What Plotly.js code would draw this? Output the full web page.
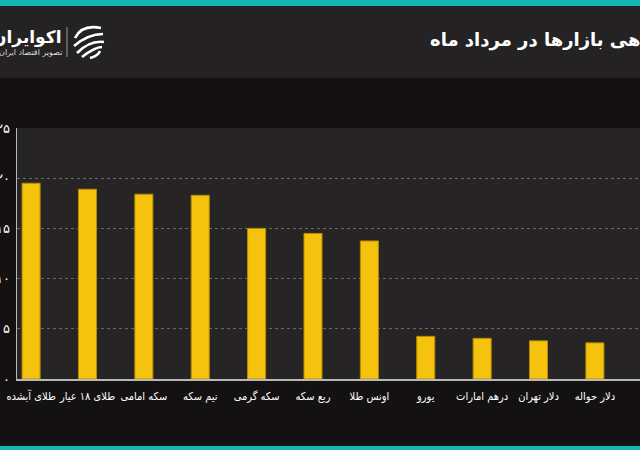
<!DOCTYPE html>
<html><head><meta charset="utf-8">
<script src="https://cdn.plot.ly/plotly-3.0.1.min.js"></script>
<style>html,body{margin:0;padding:0;background:#141112;overflow:hidden}#chart{width:640px;height:450px}</style>
</head><body><div id="chart"></div>
<script>
const categories = ['طلای آبشده','طلای ۱۸ عیار','سکه امامی','نیم سکه','سکه گرمی','ربع سکه','اونس طلا','یورو','درهم امارات','دلار تهران','دلار حواله'];
const returns = [19.5, 18.9, 18.4, 18.3, 15.0, 14.5, 13.75, 4.25, 4.05, 3.8, 3.6];
const yTickVals = [0, 5, 10, 15, 20, 25];
const yTickText = ['۰','۵','۱۰','۱۵','۲۰','۲۵'];
const titleText = 'بازدهی بازارها در مرداد ماه';
const brandName = 'اکوایران';
const brandSub = 'تصویر اقتصاد ایران';

const W = 640, H = 450, L = 17, T = 128, B = 71, R = 0;
const pw = W - L - R, ph = H - T - B;
const px = x => (x - L) / pw;
const py = y => (H - B - y) / ph;
const FONT = 'DejaVu Sans, Noto Sans, sans-serif';
const FONTC = 'DejaVu Sans Condensed, DejaVu Sans, sans-serif';

function rect(x0, y0, x1, y1, color) {
  return {type:'rect', xref:'paper', yref:'paper', x0:px(x0), x1:px(x1), y0:py(y1), y1:py(y0),
          fillcolor:color, line:{width:0}, layer:'below'};
}
function pathPx(points) {
  return points.map((p,i)=> (p[0]==='Q' ? 'Q' + px(p[1])+','+py(p[2])+' '+px(p[3])+','+py(p[4]) : (i===0?'M':'L') + px(p[0])+','+py(p[1]))).join(' ');
}
function stroke(points, w) {
  return {type:'path', xref:'paper', yref:'paper', path:pathPx(points), line:{color:'#ffffff', width:w}, layer:'above'};
}

const shapes = [
  rect(0, 0, 640, 6, '#17b4b4'),
  rect(0, 6, 640, 78, '#252223'),
  rect(0, 446, 640, 450, '#17b4b4'),
  {type:'line', xref:'paper', yref:'paper', x0:px(67), x1:px(67), y0:py(27), y1:py(57), line:{color:'#9a9a9a', width:1}},
  stroke([[75,38],['Q',82,24,101,28]], 2.6),
  stroke([[74,46],['Q',88,34,103,34]], 2.6),
  stroke([[77,53],['Q',90,40,104,42]], 2.6),
  stroke([[82,57],['Q',95,47,102,47]], 2.6),
  stroke([[90,58],['Q',98,56,100,51]], 2.6)
];

const annotations = [
  {text:'<b>'+titleText+'</b>', xref:'paper', yref:'paper', x:px(676), y:py(40), xanchor:'right', yanchor:'middle', showarrow:false, font:{family:FONT, size:18, color:'#ffffff'}},
  {text:'<b>'+brandName+'</b>', xref:'paper', yref:'paper', x:px(64), y:py(37), xanchor:'right', yanchor:'middle', showarrow:false, font:{family:FONT, size:17, color:'#ffffff'}},
  {text:brandSub, xref:'paper', yref:'paper', x:px(64), y:py(52), xanchor:'right', yanchor:'middle', showarrow:false, font:{family:FONT, size:8, color:'#dddddd'}}
];

const trace = {
  type:'bar', x:categories, y:returns, width:0.32,
  marker:{color:'#f5c30d', line:{color:'#b58c00', width:1}},
  hoverinfo:'skip'
};

const layout = {
  width:W, height:H, margin:{l:L, r:R, t:T, b:B, pad:0},
  paper_bgcolor:'#141112', plot_bgcolor:'#272425',
  showlegend:false,
  font:{family:FONT, color:'#ffffff'},
  xaxis:{type:'category', range:[-0.25, 10.8], automargin:false, showline:true, linecolor:'#b8b8b8', linewidth:2,
         showgrid:false, ticks:'', tickangle:0, tickfont:{family:FONTC, size:11, color:'#ffffff'}, ticklabelstandoff:6, fixedrange:true},
  yaxis:{range:[0,25], automargin:false, showline:true, linecolor:'#b8b8b8', linewidth:1.5, zeroline:false,
         tickvals:yTickVals, ticktext:yTickText, ticks:'', tickfont:{family:FONT, size:13, color:'#ffffff'},
         ticklabelstandoff:3, showgrid:true, gridcolor:'#6a6767', gridwidth:1, griddash:'3px,3px', fixedrange:true},
  shapes:shapes, annotations:annotations
};

Plotly.newPlot('chart', [trace], layout, {displayModeBar:false, staticPlot:true});
</script>
</body></html>
